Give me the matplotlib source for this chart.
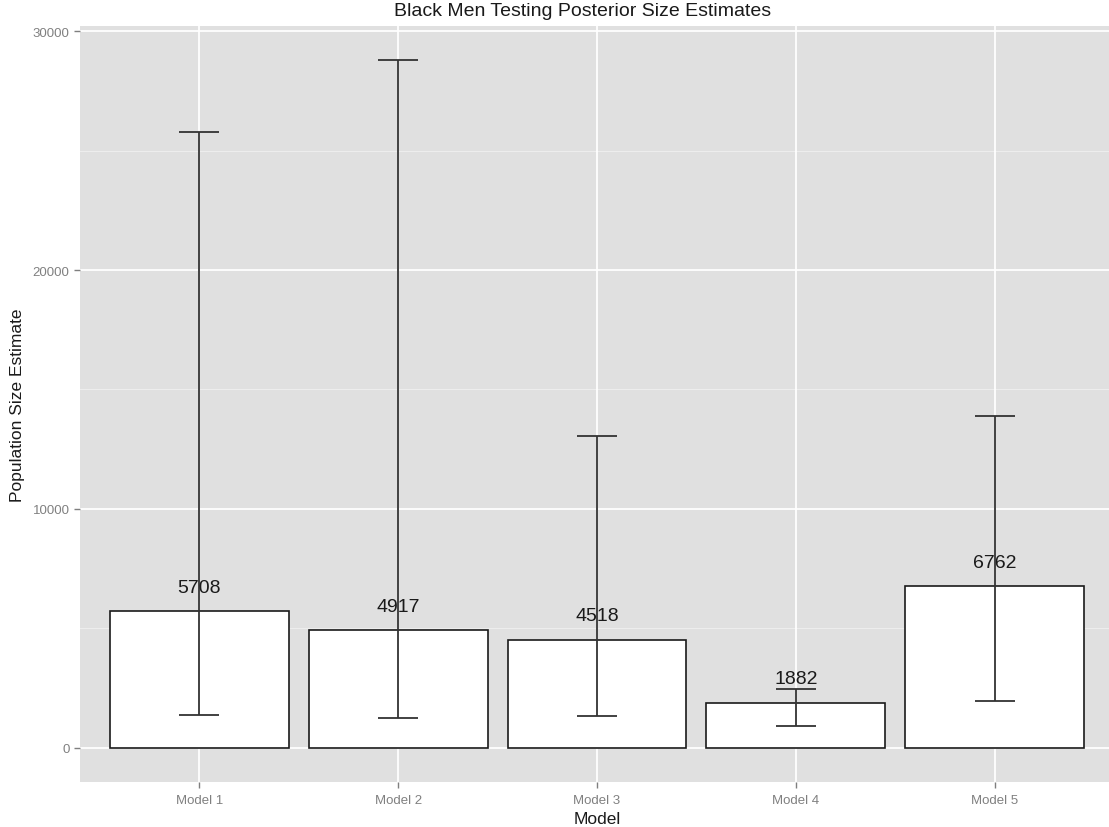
import matplotlib
matplotlib.use("Agg")
import matplotlib.pyplot as plt
import numpy as np

# posterior size estimates (median) with interval bounds
models = ["Model 1", "Model 2", "Model 3", "Model 4", "Model 5"]
estimates = [5708, 4917, 4518, 1882, 6762]
lower = [1380, 1255, 1340, 920, 1970]
upper = [25780, 28790, 13050, 2470, 13890]
yticks = [0, 10000, 20000, 30000]
minor_ticks = [5000, 15000, 25000]

plt.rcParams["font.family"] = ["Liberation Sans", "DejaVu Sans"]

fig = plt.figure(figsize=(11.09, 8.28), dpi=100)
ax = fig.add_axes([80 / 1109, 45 / 828, 1034 / 1109, 756 / 828])

panel = "#E0E0E0"
ax.set_facecolor(panel)
for s in ax.spines.values():
    s.set_visible(False)

x = np.arange(1, len(models) + 1)

# grid
for v in minor_ticks:
    ax.axhline(v, color="#EDEDED", lw=0.8, zorder=0)
for v in yticks:
    ax.axhline(v, color="white", lw=1.3, zorder=0)
for xi in x:
    ax.axvline(xi, color="white", lw=1.3, zorder=0)

ax.bar(x, estimates, width=0.9, color="white", edgecolor="#1a1a1a", linewidth=1.2, zorder=2)

# error bars
ax.vlines(x, lower, upper, color="#333333", lw=1.3, zorder=3)
ax.hlines(lower, x - 0.1, x + 0.1, color="#333333", lw=1.3, zorder=3)
ax.hlines(upper, x - 0.1, x + 0.1, color="#333333", lw=1.3, zorder=3)

for xi, v in zip(x, estimates):
    ax.text(xi, v + 1000, str(v), ha="center", va="center", fontsize=14,
            color="#1a1a1a", zorder=4)

ax.set_xlim(0.4, 5.6)
ax.set_ylim(-1440, 30225)
ax.set_xticks(x)
ax.set_xticklabels(models)
ax.set_yticks(yticks)
ax.tick_params(axis="both", colors="#7f7f7f", labelcolor="#808080", labelsize=9.5,
               length=4, width=1)
ax.tick_params(axis="x", pad=5)

ax.set_xlabel("Model", fontsize=12.5, color="#1a1a1a", labelpad=3)
fig.text(18 / 1109, 1 - 405 / 828, "Population Size Estimate", rotation=90,
         ha="center", va="center", fontsize=12.5, color="#1a1a1a")
fig.text(583 / 1109, 1 - 12 / 828, "Black Men Testing Posterior Size Estimates",
         ha="center", va="center", fontsize=14, color="#1a1a1a")

fig.savefig("out.png", dpi=100)
